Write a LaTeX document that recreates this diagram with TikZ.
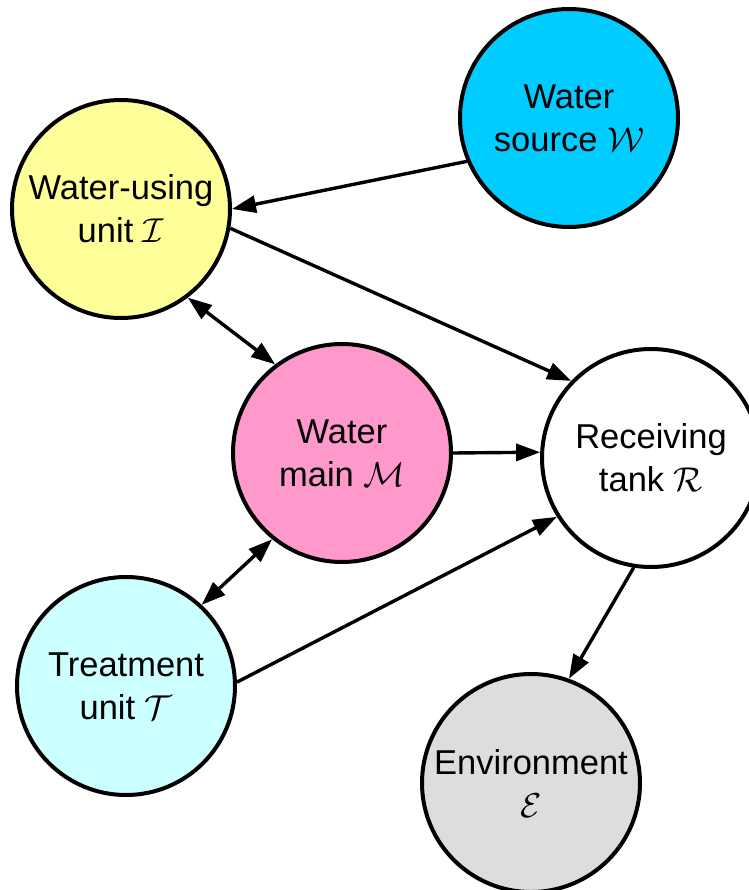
\RequirePackage{fix-cm}
\documentclass[tikz,border=0pt]{standalone}
\usepackage{fontspec}
\setmainfont{Liberation Sans}
\usetikzlibrary{arrows.meta}

\definecolor{srcfill}{HTML}{00CCFF}
\definecolor{usefill}{HTML}{FFFF99}
\definecolor{mainfill}{HTML}{FF99CC}
\definecolor{treatfill}{HTML}{CCFFFF}
\definecolor{envfill}{HTML}{DDDDDD}

\tikzset{
  unitnode/.style={circle, draw=black, line width=4pt, minimum size=218pt,
    inner sep=0pt, align=center,
    font=\fontsize{34.5}{43}\selectfont},
  tip/.style={Triangle[length=24pt,width=17pt]},
  flow/.style={line width=3.4pt, -{Triangle[length=24pt,width=17pt]}},
  twoway/.style={line width=3.4pt, {Triangle[length=24pt,width=17pt]}-{Triangle[length=24pt,width=17pt]}}
}

\begin{document}
\begin{tikzpicture}[x=1pt, y=-1pt]
  \useasboundingbox (0,0) rectangle (748,890);

  % units of the water network
  \node[unitnode, fill=srcfill]   (W) at (569,118) {Water\\source $\mathcal{W}$};
  \node[unitnode, fill=usefill]   (I) at (121,209) {Water-using\\unit $\mathcal{I}$};
  \node[unitnode, fill=mainfill]  (M) at (342,453) {Water\\main $\mathcal{M}$};
  \node[unitnode, fill=white]     (R) at (651,458) {Receiving\\tank $\mathcal{R}$};
  \node[unitnode, fill=treatfill] (T) at (126,686) {Treatment\\unit $\mathcal{T}$};
  \node[unitnode, fill=envfill]   (E) at (531,783) {Environment\\$\mathcal{E}$};

  % water flows
  \draw[flow]   (W.203)  -- (I.0);
  \draw[flow]   (I.-10)  -- (R.136);
  \draw[twoway] (I.-53)  -- (M.127);
  \draw[flow]   (M.0)    -- (R.177);
  \draw[twoway] (M.231)  -- (T.47);
  \draw[flow]   (T.2)    -- (R.212);
  \draw[flow]   (R.261)  -- (E.70);
\end{tikzpicture}
\end{document}
